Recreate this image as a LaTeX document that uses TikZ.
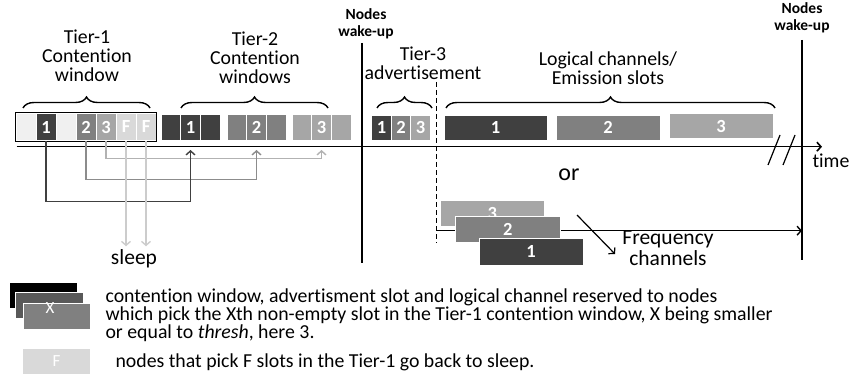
\documentclass[tikz,border=0pt]{standalone}
\usepackage{fontspec}
\setmainfont{Carlito}[Ligatures=CommonOff]
\usepackage{tikz}
\usetikzlibrary{arrows.meta,decorations.pathreplacing}

\begin{document}
\begin{tikzpicture}[x=1pt,y=-1pt,
    slot/.style={draw=white, line width=0.8pt, inner sep=0pt, text=white,
      minimum width=20pt, minimum height=27.5pt,
      font=\bfseries\fontsize{18.5}{18.5}\selectfont},
    lbl/.style={align=center, font=\fontsize{19.8}{19}\selectfont},
    wake/.style={align=center, font=\bfseries\fontsize{15.5}{17}\selectfont},
    brc/.style={decorate, decoration={brace, amplitude=11pt}, line width=1.4pt},
    link/.style={line width=1.4pt, -{Straight Barb[length=4pt,width=9pt]}},
    legbox/.style={draw=white, line width=0.8pt, inner sep=0pt, text=white,
      minimum width=67.5pt, minimum height=26pt, font=\fontsize{17}{17}\selectfont}]
  \useasboundingbox (0,0) rectangle (854,377);

  \node[slot, fill=black!6] (t1a) at (26,127) {};
  \node[slot, fill=black!75] (t1b) at (46,127) {1};
  \node[slot, fill=black!6] (t1c) at (66,127) {};
  \node[slot, fill=black!50] (t1d) at (86,127) {2};
  \node[slot, fill=black!35] (t1e) at (106,127) {3};
  \node[slot, fill=black!15] (t1f) at (126,127) {F};
  \node[slot, fill=black!15] (t1g) at (146,127) {F};
  \draw[line width=1.2pt] (t1a.north west) rectangle (t1g.south east);

  \node[slot, fill=black!75, minimum width=19.7pt, minimum height=26.7pt] (g1a) at (170.8,127.3) {};
  \node[slot, fill=black!75, minimum width=19.7pt, minimum height=26.7pt] (g1b) at (190.5,127.3) {1};
  \node[slot, fill=black!75, minimum width=19.7pt, minimum height=26.7pt] (g1c) at (210.2,127.3) {};
  \node[slot, fill=black!50, minimum width=19.7pt, minimum height=26.7pt] (g2a) at (236.8,127.3) {};
  \node[slot, fill=black!50, minimum width=19.7pt, minimum height=26.7pt] (g2b) at (256.5,127.3) {2};
  \node[slot, fill=black!50, minimum width=19.7pt, minimum height=26.7pt] (g2c) at (276.2,127.3) {};
  \node[slot, fill=black!35, minimum width=19.7pt, minimum height=26.7pt] (g3a) at (301.8,127.3) {};
  \node[slot, fill=black!35, minimum width=19.7pt, minimum height=26.7pt] (g3b) at (321.5,127.3) {3};
  \node[slot, fill=black!35, minimum width=19.7pt, minimum height=26.7pt] (g3c) at (341.2,127.3) {};

  \node[slot, fill=black!75, minimum width=19.5pt, minimum height=25pt] (ad1) at (381.5,127.5) {1};
  \node[slot, fill=black!50, minimum width=19.5pt, minimum height=25pt] (ad2) at (401,127.5) {2};
  \node[slot, fill=black!35, minimum width=19.5pt, minimum height=25pt] (ad3) at (420.5,127.5) {3};

  \node[slot, fill=black!75, minimum width=103pt, minimum height=25pt] (em1) at (495.5,127.5) {1};
  \node[slot, fill=black!50, minimum width=104pt, minimum height=25pt] (em2) at (608,127.5) {2};
  \node[slot, fill=black!35, minimum width=104pt, minimum height=25pt] (em3) at (721,126) {3};

  \draw[brc] (23,108) -- (150,108);
  \draw[brc] (181,108) -- (328,108);
  \draw[brc] (377,108) -- (432,108);
  \draw[brc] (446,108) -- (775,108);
  \node[lbl] (tier1) at (87,56) {Tier-1\\Contention\\window};
  \node[lbl] (tier2) at (255,58) {Tier-2\\Contention\\windows};
  \node[lbl] (tier3) at (423,63) {Tier-3\\advertisement};
  \node[lbl] (logch) at (608,68) {Logical channels/\\Emission slots};

  \coordinate (wk1top) at (362,43);
  \coordinate (wk1bot) at (362,263);
  \coordinate (wk2top) at (802,40);
  \coordinate (wk2bot) at (802,260);
  \draw[line width=1.4pt] (wk1top) -- (wk1bot);
  \draw[line width=1.4pt] (wk2top) -- (wk2bot);
  \node[wake] (wk1) at (366,23.5) {Nodes\\wake-up};
  \node[wake] (wk2) at (802,18) {Nodes\\wake-up};

  \coordinate (dtop) at (436.5,82);
  \coordinate (dbot) at (436.5,243);
  \draw[line width=1.4pt, dash pattern=on 5pt off 3pt] (dtop) -- (dbot);

  \coordinate (t0) at (16.7,146.7);
  \coordinate (tend) at (822,146.7);
  \draw[link, line width=1.6pt] (t0) -- (tend);
  \draw[line width=1.2pt] (768,165) -- (780,135);
  \draw[line width=1.2pt] (783,165) -- (795,135);
  \node[anchor=west, font=\fontsize{19.8}{19}\selectfont] (time) at (809,161) {time};

  \node[font=\fontsize{21.5}{21.5}\selectfont] (sleep) at (134,259) {sleep};
  \coordinate (tipy) at (0,150);
  \coordinate (low1) at (0,201.7);
  \coordinate (low2) at (0,179.3);
  \coordinate (low3) at (0,158.3);
  \draw[link, black!30] (t1e.south) -- (t1e |- low3) -| (g3b |- tipy);
  \draw[link, black!45] (t1d.south) -- (t1d |- low2) -| (g2b |- tipy);
  \draw[link, black!75] (t1b.south) -- (t1b |- low1) -| (g1b |- tipy);
  \draw[link, black!20] (t1f.south) -- (t1f |- sleep.north);
  \draw[link, black!20] (t1g.south) -- (t1g |- sleep.north);

  \node[font=\fontsize{24}{24}\selectfont] (or) at (569,175) {or};

  \coordinate (fch) at (436.5,230.7);
  \draw[link] (dbot |- fch) -- (wk2top |- fch);
  \node[slot, fill=black!35, minimum width=103.3pt, minimum height=26.7pt] (fq3) at (492.3,213.3) {3};
  \node[slot, fill=black!50, minimum width=104.3pt, minimum height=26pt] (fq2) at (507.8,229.7) {2};
  \node[slot, fill=black!75, minimum width=104pt, minimum height=27.7pt] (fq1) at (531,251.8) {1};
  \node[align=center, font=\fontsize{21.5}{21}\selectfont] (freq) at (668,248.5) {Frequency\\channels};
  \coordinate (fqa) at (577,215);
  \coordinate (fqb) at (615,254);
  \draw[link, line width=1.2pt] (fqa) -- (fqb);

  \node[legbox, fill=black] (legA) at (43.2,295) {};
  \node[legbox, fill=black!65] (legB) at (49.5,305) {};
  \node[legbox, fill=black!50] (legC) at (57,316.5) {};
  \node[text=white, font=\fontsize{17}{17}\selectfont] (legX) at (50,308) {X};
  \node[legbox, fill=black!15] (legF) at (56.5,361) {F};
  \node[anchor=west, align=left, font=\fontsize{19.8}{18}\selectfont] (legtxt) at (102,315)
    {contention window, advertisment slot and logical channel reserved to nodes\\
     which pick the Xth non-empty slot in the Tier-1 contention window, X being smaller\\
     or equal to \textit{thresh}, here 3.};
  \node[anchor=west, font=\fontsize{19.8}{19}\selectfont] (legtxtF) at (112,362)
    {nodes that pick F slots in the Tier-1 go back to sleep.};
\end{tikzpicture}
\end{document}
